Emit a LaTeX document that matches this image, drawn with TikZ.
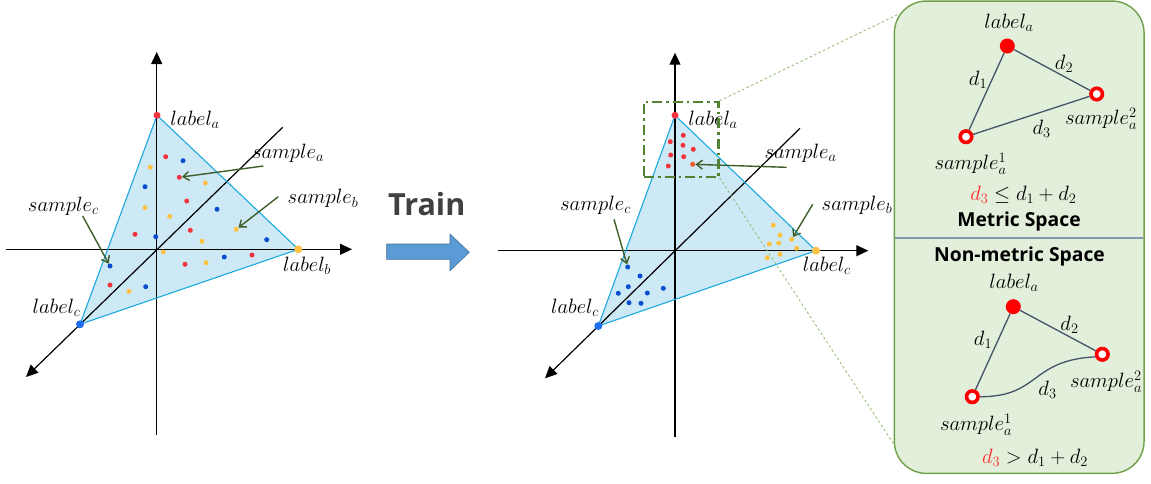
\documentclass[tikz,border=0pt]{standalone}
\usepackage{fontspec}
\newfontfamily\sansb{Open Sans}
\usetikzlibrary{arrows.meta}
\definecolor{tfill}{HTML}{CDE9F5}
\definecolor{tedge}{HTML}{1CA9DE}
\definecolor{dred}{HTML}{F4333F}
\definecolor{dorange}{HTML}{F05A28}
\definecolor{dblue}{HTML}{0A4ED0}
\definecolor{vblue}{HTML}{1E6FF0}
\definecolor{dyel}{HTML}{FDC244}
\definecolor{agreen}{HTML}{3E5E2A}
\definecolor{rgreen}{HTML}{548235}
\definecolor{pfill}{HTML}{E2EFDA}
\definecolor{pedge}{HTML}{70A04A}
\definecolor{zline}{HTML}{8FB870}
\definecolor{sepc}{HTML}{8497B0}
\definecolor{lnk}{HTML}{44546A}
\definecolor{tblue}{HTML}{5B9BD5}
\definecolor{tblued}{HTML}{41719C}
\definecolor{ttext}{HTML}{404040}
\definecolor{fred}{HTML}{FF2A2A}
\newcommand\lblsize{\fontsize{20.74}{24}\selectfont}
\begin{document}
\begin{tikzpicture}[x=1pt,y=-1pt,
  lbl/.style={font=\lblsize, inner sep=0pt},
  axisline/.style={line width=1.2pt, black},
  axisarrow/.style={axisline, -{Triangle[length=12pt,width=11pt]}},
  sdot/.style={circle, inner sep=0pt, minimum size=5pt},
  rd/.style={sdot, fill=dred},
  bd/.style={sdot, fill=dblue},
  yd/.style={sdot, fill=dyel},
  vdot/.style={circle, inner sep=0pt, minimum size=8pt},
  garrow/.style={draw=agreen, line width=1.4pt, -{Straight Barb[length=6pt,width=9pt]}},
  zoomline/.style={draw=zline, line width=0.8pt, dash pattern=on 2.5pt off 2.5pt},
  link/.style={draw=lnk, line width=1.3pt},
  fulldot/.style={circle, fill=red, inner sep=0pt, minimum size=15pt},
  ring/.style={circle, draw=red, fill=white, line width=3.6pt, inner sep=0pt, minimum size=11.5pt},
  title/.style={font=\sansb\bfseries\fontsize{19.3}{22}\selectfont, inner sep=0pt}
]
\useasboundingbox (0,0) rectangle (1151,483);

% ================= LEFT DIAGRAM =================
\coordinate (LA) at (157,115.3);
\coordinate (LB) at (298.3,249.3);
\coordinate (LC) at (80,324.3);
\fill[tfill] (LA) -- (LB) -- (LC) -- cycle;
\coordinate (LVb) at (156.7,435);
\coordinate (LVt) at (156.7,52);
\coordinate (LHl) at (6,249.3);
\coordinate (LHr) at (352,249.3);
\coordinate (LDu) at (282.7,127.3);
\coordinate (LDd) at (26,377);
\draw[axisarrow] (LVb) -- (LVt);
\draw[axisarrow] (LHl) -- (LHr);
\draw[axisarrow] (LDu) -- (LDd);
\draw[draw=tedge, line width=1.1pt, line join=round] (LA) -- (LB) -- (LC) -- cycle;
\node[vdot, fill=dred, minimum size=7pt] (LAd) at (LA) {};
\node[vdot, fill=dyel] (LBd) at (LB) {};
\node[vdot, fill=vblue] (LCd) at (LC) {};

\foreach [count=\i] \x/\y in {165.7/156.7, 179.3/177.3, 186.7/201, 135/234.3, 190.3/230.3, 185/264.3, 252/255, 110/285}
  \node[rd] (Lr\i) at (\x,\y) {};
\foreach [count=\i] \x/\y in {183/160.7, 145/186.7, 217/209.3, 155.7/236.7, 266.7/239.7, 224.3/257, 110/266, 145.7/286.7}
  \node[bd] (Lb\i) at (\x,\y) {};
\foreach [count=\i] \x/\y in {150.3/167.3, 205.3/183, 145/207.7, 169.7/216.3, 236.3/229.3, 202/241.3, 163.3/252, 206/262.7, 129/291.3}
  \node[yd] (Ly\i) at (\x,\y) {};

\node[lbl] (Lla) at (195,119.5) {$label_a$};
\node[lbl] (Llb) at (307,265.5) {$label_b$};
\node[lbl] (Llc) at (56.5,308) {$label_c$};
\node[lbl] (Lsa) at (288,153) {$sample_a$};
\node[lbl] (Lsb) at (323,198.7) {$sample_b$};
\node[lbl] (Lsc) at (63.3,206.3) {$sample_c$};

\coordinate (Lsas) at (263.3,166);
\coordinate (Lsbs) at (278.3,196.7);
\coordinate (Lscs) at (82.7,216);
\draw[garrow] (Lsas) -- (Lr2);
\draw[garrow] (Lsbs) -- (Ly5);
\draw[garrow] (Lscs) -- (Lb7);

% ================= TRAIN ARROW =================
\node[inner sep=0pt, text=ttext, font=\sansb\bfseries\fontsize{30.5}{34}\selectfont] (train) at (426.7,204) {Train};
\fill[tblue, draw=tblued, line width=0.6pt, line join=miter]
  (386.7,244) -- (450,244) -- (450,234) -- (469.3,252.3) -- (450,270.7) -- (450,259.3) -- (386.7,259.3) -- cycle;

% ================= MIDDLE DIAGRAM =================
\coordinate (MA) at (675,115.3);
\coordinate (MB) at (816,250.7);
\coordinate (MC) at (598.3,326);
\fill[tfill] (MA) -- (MB) -- (MC) -- cycle;
\coordinate (MVb) at (675,436.7);
\coordinate (MVt) at (675,52.7);
\coordinate (MHl) at (498.3,250.7);
\coordinate (MHr) at (868.3,250.7);
\coordinate (MDu) at (800,128.3);
\coordinate (MDd) at (545,378.3);
\draw[axisarrow] (MVb) -- (MVt);
\draw[axisarrow] (MHl) -- (MHr);
\draw[axisarrow] (MDu) -- (MDd);
\draw[draw=tedge, line width=1.1pt, line join=round] (MA) -- (MB) -- (MC) -- cycle;
\node[vdot, fill=dred, minimum size=7pt] (MAd) at (MA) {};
\node[vdot, fill=dyel] (MBd) at (MB) {};
\node[vdot, fill=vblue] (MCd) at (MC) {};

\foreach [count=\i] \x/\y in {670.3/141.7, 683.3/135.3, 683/145.3, 693.3/149.3, 670.7/155, 683.7/156.7, 668.3/166}
  \node[rd] (Mr\i) at (\x,\y) {};
\node[sdot, fill=dorange] (Mr8) at (692.7,164.3) {};
\foreach [count=\i] \x/\y in {627.7/267, 640/276, 628.3/286.7, 618.3/293.3, 647.3/293, 663.3/288.3, 629/302.7, 641/303.3}
  \node[bd] (Mb\i) at (\x,\y) {};
\foreach [count=\i] \x/\y in {773.3/225.3, 780/235, 769.3/244, 778.7/243, 791.7/239.3, 796.7/248.3, 767.3/257.7, 780/254.3}
  \node[yd] (My\i) at (\x,\y) {};

\node[lbl] (Mla) at (713,119.5) {$label_a$};
\node[lbl] (Mlb) at (826.7,266) {$label_c$};
\node[lbl] (Mlc) at (575,308) {$label_c$};
\node[lbl] (Msa) at (800.5,153) {$sample_a$};
\node[lbl] (Msb) at (857,205.3) {$sample_b$};
\node[lbl] (Msc) at (595.5,205) {$sample_c$};

\coordinate (Msas) at (786.7,167.3);
\coordinate (Msbs) at (812.7,204.3);
\coordinate (Mscs) at (614,219.3);
\draw[garrow] (Msas) -- (Mr8);
\draw[garrow] (Msbs) -- (My5);
\draw[garrow] (Mscs) -- (Mb1);

\node[draw=rgreen, line width=2.5pt, dash pattern=on 10pt off 4pt on 2.5pt off 4pt,
      minimum width=74.3pt, minimum height=74.7pt, inner sep=0pt] (zoomrect) at (681.2,139.4) {};

% ================= RIGHT PANEL =================
\node[draw=pedge, fill=pfill, line width=1.4pt, rounded corners=32pt,
      minimum width=249.7pt, minimum height=472.3pt, inner sep=0pt] (panel) at (1019.2,237.2) {};
\coordinate (PzTop) at (903,12);
\coordinate (PzBot) at (894.3,445);
\draw[zoomline] (zoomrect.north east) -- (PzTop);
\draw[zoomline] (zoomrect.south east) -- (PzBot);
\coordinate (SepL) at (895,238.3);
\coordinate (SepR) at (1143.3,238.3);
\draw[draw=sepc, line width=2pt] (SepL) -- (SepR);

% metric space
\node[lbl] (Tla) at (1009,22.5) {$label_a$};
\node[fulldot] (Ta) at (1007.3,46) {};
\node[ring] (Ts2) at (1096.7,94) {};
\node[ring] (Ts1) at (966,136.7) {};
\draw[link] (Ta) -- (Ts1);
\draw[link] (Ta) -- (Ts2);
\draw[link] (Ts1) -- (Ts2);
\node[lbl] (Td1) at (978,79.5) {$d_1$};
\node[lbl] (Td2) at (1064,64) {$d_2$};
\node[lbl] (Td3) at (1041.7,129) {$d_3$};
\node[lbl] (Tt2) at (1101,119) {$sample_a^2$};
\node[lbl] (Tt1) at (970.5,163.7) {$sample_a^1$};
\node[lbl] (Tf) at (1023.3,195) {${\color{fred}d_3} \leq d_1 + d_2$};
\node[title] (Tm) at (1019,221) {Metric Space};

% non-metric space
\node[title] (Bm) at (1019.5,256) {Non-metric Space};
\node[lbl] (Bla) at (1014,282.5) {$label_a$};
\node[fulldot] (Ba) at (1013.3,306.7) {};
\node[ring] (Bs2) at (1102.3,354.3) {};
\node[ring] (Bs1) at (972.3,396.7) {};
\draw[link] (Ba) -- (Bs1);
\draw[link] (Ba) -- (Bs2);
\draw[link] (Bs1.east) .. controls (1040,397) and (1030,360) .. (Bs2.200);
\node[lbl] (Bd1) at (983,339.5) {$d_1$};
\node[lbl] (Bd2) at (1069.5,325) {$d_2$};
\node[lbl] (Bd3) at (1047.5,390) {$d_3$};
\node[lbl] (Bt2) at (1106,381.7) {$sample_a^2$};
\node[lbl] (Bt1) at (976,425) {$sample_a^1$};
\node[lbl] (Bf) at (1035,457.5) {${\color{fred}d_3} > d_1 + d_2$};
\end{tikzpicture}
\end{document}
